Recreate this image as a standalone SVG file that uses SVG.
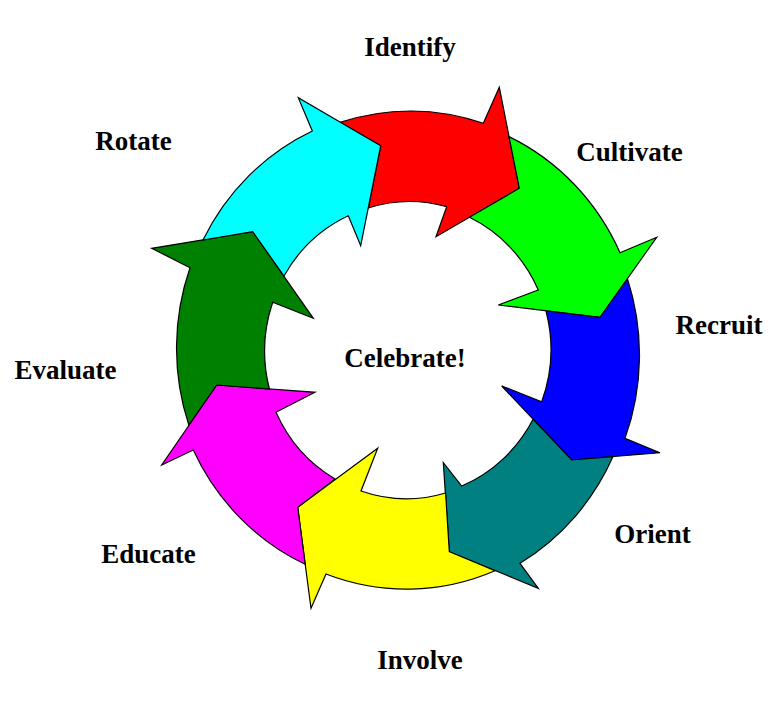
<svg xmlns="http://www.w3.org/2000/svg" width="780" height="706" viewBox="0 0 780 706">
<style>
.arrow{stroke:#000;stroke-width:1.2;stroke-linejoin:miter}
.lbl{font-family:"Liberation Serif","Times New Roman",serif;font-weight:bold;font-size:27px;fill:#000;text-anchor:middle}
</style>
<rect width="780" height="706" fill="#fff"/>
<g id="connectors"></g>
<g id="identify">
<path class="arrow" fill="#FF0000" d="M340,122.4 A230,238.5 0 0 1 483.3,123.3 L499.3,87.3 L519.3,188.3 L436,236.7 L446.7,206.7 A142.5,148 0 0 0 368.3,208 L380.7,145.7 Z"/>
<text class="lbl" x="410" y="56">Identify</text>
</g>
<g id="cultivate">
<path class="arrow" fill="#00FF00" d="M509,136.6 A230,238.5 0 0 1 620,252.7 L656.7,237.3 L600,317.3 L498.3,305 L538.3,290 A142.5,148 0 0 0 469.5,217.3 L519.3,188.3 Z"/>
<text class="lbl" x="629.5" y="161">Cultivate</text>
</g>
<g id="recruit">
<path class="arrow" fill="#0000FF" d="M627.5,279 A230,238.5 0 0 1 625,438.3 L660,452.7 L571.7,460 L501.7,386 L541.7,401.7 A142.5,148 0 0 0 546,311 L600,317.3 Z"/>
<text class="lbl" x="719" y="334">Recruit</text>
</g>
<g id="orient">
<path class="arrow" fill="#008080" d="M613,456.6 A230,238.5 0 0 1 520,563.3 L538.3,588.3 L449.3,551.7 L443.3,462.7 L461.7,486 A142.5,148 0 0 0 533.1,419.3 L571.7,460 Z"/>
<text class="lbl" x="652.5" y="543">Orient</text>
</g>
<g id="involve">
<path class="arrow" fill="#FFFF00" d="M495,570.7 A230,238.5 0 0 1 326,574 L311,608.3 L297.7,507.3 L377.7,448.3 L361,491 A142.5,148 0 0 0 445.6,493 L449.3,551.7 Z"/>
<text class="lbl" x="420" y="669">Involve</text>
</g>
<g id="educate">
<path class="arrow" fill="#FF00FF" d="M305.2,564.3 A230,238.5 0 0 1 193.3,450 L161.7,465 L216.7,385 L315,392.3 L276,412.3 A142.5,148 0 0 0 335,479 L297.7,507.3 Z"/>
<text class="lbl" x="148.5" y="563">Educate</text>
</g>
<g id="evaluate">
<path class="arrow" fill="#008000" d="M188.8,425 A230,238.5 0 0 1 190,267.7 L151.7,248.3 L252.7,231.7 L313.3,318.3 L272.7,302.3 A142.5,148 0 0 0 269.4,389 L216.7,385 Z"/>
<text class="lbl" x="65.5" y="379">Evaluate</text>
</g>
<g id="rotate">
<path class="arrow" fill="#00FFFF" d="M203,240 A230,238.5 0 0 1 312.3,131 L298.3,97.7 L380.7,145.7 L360.7,245.7 L348.3,215.7 A142.5,148 0 0 0 284,276 L252.7,231.7 Z"/>
<text class="lbl" x="133.5" y="150">Rotate</text>
</g>
<g id="celebrate">
<text class="lbl" x="405" y="367">Celebrate!</text>
</g>
</svg>
